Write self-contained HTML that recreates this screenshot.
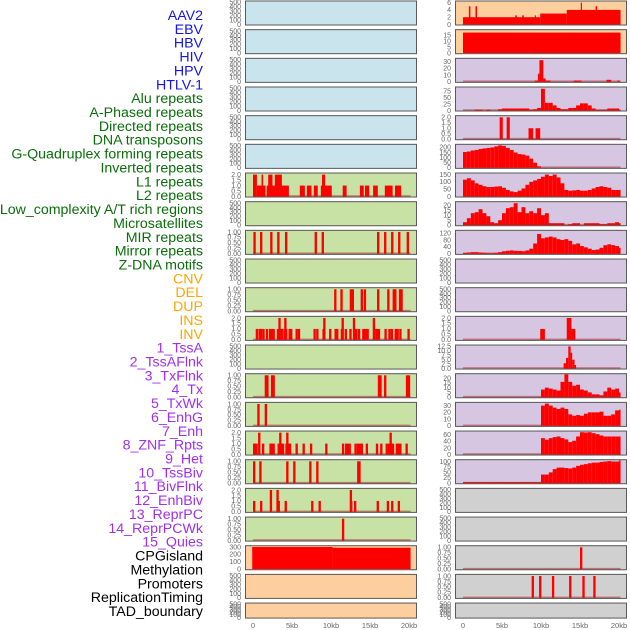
<!DOCTYPE html>
<html><head><meta charset="utf-8"><style>
html,body{margin:0;padding:0;background:#fff;}
svg{display:block;font-family:"Liberation Sans",sans-serif;}
</style></head><body>
<svg id="chart" width="630" height="630" viewBox="0 0 630 630" xmlns="http://www.w3.org/2000/svg"></svg>
<script>
// ---- labels ----
const trackLabels=["AAV2","EBV","HBV","HIV","HPV","HTLV-1","Alu repeats","A-Phased repeats","Directed repeats","DNA transposons","G-Quadruplex forming repeats","Inverted repeats","L1 repeats","L2 repeats","Low_complexity A/T rich regions","Microsatellites","MIR repeats","Mirror repeats","Z-DNA motifs","CNV","DEL","DUP","INS","INV","1_TssA","2_TssAFlnk","3_TxFlnk","4_Tx","5_TxWk","6_EnhG","7_Enh","8_ZNF_Rpts","9_Het","10_TssBiv","11_BivFlnk","12_EnhBiv","13_ReprPC","14_ReprPCWk","15_Quies","CPGisland","Methylation","Promoters","ReplicationTiming","TAD_boundary"];
const labelGroupSizes=[6,13,5,15,5];
const labelGroupColors=["#1515e6","#0a6e0a","#ffa500","#a030f0","#000"];
const xTickValues=[0,5,10,15,20];
const xTickLabels=["0","5kb","10kb","15kb","20kb"];

// ---- left column data (kb positions / values) ----
const l6Start=[0,0.5,1.1,1.75,1.95,2.8,6.0,6.9,7.8,8.7,8.85,11.5,13.7,14.35,15.4,16.9,18.2];
const l6End=[0.5,1.6,1.3,4.6,2.5,3.7,6.65,7.5,8.3,10.1,9.25,12.0,14.2,14.9,16.0,17.9,19.0];
const l6Val=[2,1,2,1,2,2,1,1,1,1,2,1,1,1,1,1,1];
const l8Pos=[0.05,0.9,2.2,3.1,4.1,7.9,8.8,15.9,16.8,17.7,18.6,19.7];
const l10Pos=[10.4,11.2,12.4,12.65,13.8,14.2,15.9,17.2,17.9,18.1,18.7,18.9];
const l11Pos=[0.35,0.7,0.9,1.2,1.65,2.05,2.25,2.5,3.05,3.3,3.55,3.9,4.1,4.55,4.75,5.45,5.75,7.75,8.1,8.9,9.75,10.45,10.65,11.25,11.75,12.35,12.85,13.1,13.45,14.0,14.25,14.55,15.45,15.75,16.0,16.85,17.35,17.65,18.15,18.4,18.75,19.8,3.25,4.0,9.0,11.35,12.8,15.35];
const l11Val=[1,1,1,1,1,1,1,1,1,1,1,1,1,1,1,1,1,1,1,1,1,1,1,1,1,1,1,1,1,1,1,1,1,1,1,1,1,1,1,1,1,1,2,2,2,2,2,2];
const l13Pos=[1.5,1.7,2.3,2.5,16.0,16.2,16.8,19.6,19.85];
const l14Pos=[0.55,1.5];
const l15Pos=[0,0.15,0.3,1.15,2.1,2.25,2.5,3.15,3.45,3.7,4.15,4.4,4.6,5.45,6.35,7.3,9.25,11.4,11.8,12.0,12.25,13.0,13.3,13.55,13.8,14.45,15.75,16.3,17.0,17.3,17.55,17.8,18.3,18.55,18.75,19.55,0.65,3.35,4.25,17.5];
const l15Val=[1,1,1,1,1,1,1,1,1,1,1,1,1,1,1,1,1,1,1,1,1,1,1,1,1,1,1,1,1,1,1,1,1,1,1,1,2,2,2,2];
const l16Pos=[0,0.8,4.25,5.15,7.2,8.1,13.35,13.5];
const l17Pos=[0,0.9,3.15,4.05,7.45,8.4,12.45,12.95,15.85,17.15,17.7,18.55,2.15,3.0,12.4];
const l17Val=[1,1,1,1,1,1,1,1,1,1,1,1,2,2,2];
const l18Pos=[11.4];
const cpgStart=[-0.1,10.2];
const cpgEnd=[10.2,20.2];
const cpgVal=[300,290];

// ---- right column data ----
const aavStart=[0,9.9,13.3,0.75,1.6,6.7,7.6,9.2,15.1,17.0];
const aavEnd=[9.9,13.3,20.2,0.95,1.8,6.9,7.8,9.35,15.25,17.2];
const aavVal=[2,3,4,5,5,2.5,2.5,2.5,6,5];
const ebvStart=[0];const ebvEnd=[20.2];const ebvVal=[17];
const hivStart=[9.2,9.6,9.8,10.3,10.6,14.2,18.4,19.8];
const hivEnd=[9.6,9.8,10.3,10.6,11.2,15.2,19.0,20.1];
const hivVal=[2,12,32,5,2,2,3,2];
const hpvBins=[0,0,0,3,3,0,3,0,0,5,8,8,8,8,8,8,8,3,5,10,85,30,30,20,10,5,5,10,10,20,28,28,20,8,3,3,3,8,8,8,3];
const htlvStart=[4.7,5.6,8.4,9.3];const htlvEnd=[5.1,6.0,9.0,9.9];const htlvVal=[2,2,1,1];
const aluBins=[155,160,170,175,185,190,195,200,210,220,215,195,175,150,135,130,120,90,50,15];
const l1Bins=[115,125,110,90,80,70,65,65,68,70,60,45,35,30,40,55,80,100,110,120,135,150,140,150,130,90,45,40,42,45,40,40,45,55,65,70,65,60,45,45,45];
const l2Bins=[3,7,12,13,16,12,9,3,2,5,12,17,18,22,13,18,12,14,12,17,10,12,2,2,2,2,0,1,2,2,0,2,2,2,2,1,1,2,2,3,2];
const lowcBins=[5,8,10,10,8,6,4,4,6,10,15,18,20,18,17,15,20,30,60,115,90,95,100,95,85,80,85,75,55,60,45,38,30,22,25,35,50,55,50,45,35];
const mirrorStart=[9.9,13.3,13.9];const mirrorEnd=[10.5,13.9,14.4];const mirrorVal=[1,2,1];
const zdnaStart=[12.9,13.2,13.5,13.8,14.0,14.3];const zdnaEnd=[13.2,13.5,13.8,14.0,14.3,14.5];const zdnaVal=[3,6,12.5,9,5,2];
const r13Bins=[8,10,9,8,7,16,24,16,12,13,8,7,5,3,3,2,6,10,8,9,5];
const r14Bins=[30,33,30,27,25,27,25,17,15,16,15,18,20,20,20,21,15,15,17,23,24];
const r15Bins=[50,45,50,53,55,50,46,38,42,55,68,67,68,65,62,58,55,55,55,55,55];
const r16Bins=[5,5,5,5,5,5,5,5,5,5,5,5,5,5,5,5,5,5,5,5,40,40,50,65,72,72,70,68,72,80,85,88,92,95,95,98,100,102,100,100,105];
const r19Pos=[15.0];
const r20Pos=[8.8,9.75,11.4,13.6,15.3,16.7];

const T01=["0.00","0.25","0.50","0.75","1.00"],V01=[0,0.25,0.5,0.75,1];
const T02=["0.0","0.5","1.0","1.5","2.0"],V02=[0,0.5,1,1.5,2];
const VE=[0,100,200,300,400,500];
const BG={blue:"#c9e4ec",green:"#c8e1a5",orange:"#fecf9e",purple:"#d6c6e2",gray:"#d0d0d0"};

function lines(pos,vals){return pos.map((p,i)=>[p,p+0.3,vals?vals[i]:1]);}
function bars(s,e,v){return s.map((a,i)=>[a,e[i],v[i]]);}
function binsToBars(b,start){return b.map((v,i)=>[start+i*0.5,Math.min(start+i*0.5+0.5,20.2),v]);}

const panels=[];
for(let r=0;r<6;r++)panels.push({col:0,row:r,bg:"blue",empty:true});
panels.push({col:0,row:6,bg:"green",ymax:2.1,ticks:V02,tl:T02,d:bars(l6Start,l6End,l6Val)});
panels.push({col:0,row:7,bg:"green",empty:true});
panels.push({col:0,row:8,bg:"green",ymax:1.05,ticks:V01,tl:T01,d:lines(l8Pos)});
panels.push({col:0,row:9,bg:"green",empty:true});
panels.push({col:0,row:10,bg:"green",ymax:1.05,ticks:V01,tl:T01,d:lines(l10Pos)});
panels.push({col:0,row:11,bg:"green",ymax:2.1,ticks:V02,tl:T02,d:lines(l11Pos,l11Val)});
panels.push({col:0,row:12,bg:"green",empty:true});
panels.push({col:0,row:13,bg:"green",ymax:1.05,ticks:V01,tl:T01,d:lines(l13Pos)});
panels.push({col:0,row:14,bg:"green",ymax:1.05,ticks:V01,tl:T01,d:lines(l14Pos)});
panels.push({col:0,row:15,bg:"green",ymax:2.1,ticks:V02,tl:T02,d:lines(l15Pos,l15Val)});
panels.push({col:0,row:16,bg:"green",ymax:1.05,ticks:V01,tl:T01,d:lines(l16Pos)});
panels.push({col:0,row:17,bg:"green",ymax:2.1,ticks:V02,tl:T02,d:lines(l17Pos,l17Val)});
panels.push({col:0,row:18,bg:"green",ymax:1.05,ticks:V01,tl:T01,d:lines(l18Pos)});
panels.push({col:0,row:19,bg:"orange",ymax:310,ticks:[0,100,200,300],tl:["0","100","200","300"],d:bars(cpgStart,cpgEnd,cpgVal),nobase:true});
panels.push({col:0,row:20,bg:"orange",empty:true});
panels.push({col:0,row:21,bg:"orange",empty:true});

panels.push({col:1,row:0,bg:"orange",ymax:6.3,ticks:[0,2,4,6],tl:["0","2","4","6"],d:bars(aavStart,aavEnd,aavVal),nobase:true});
panels.push({col:1,row:1,bg:"orange",ymax:19,ticks:[0,5,10,15],tl:["0","5","10","15"],d:bars(ebvStart,ebvEnd,ebvVal),nobase:true});
panels.push({col:1,row:2,bg:"purple",ymax:34,ticks:[0,10,20,30],tl:["0","10","20","30"],d:bars(hivStart,hivEnd,hivVal)});
panels.push({col:1,row:3,bg:"purple",ymax:90,ticks:[0,25,50,75],tl:["0","25","50","75"],d:binsToBars(hpvBins,0)});
panels.push({col:1,row:4,bg:"purple",ymax:2.1,ticks:V02,tl:T02,d:bars(htlvStart,htlvEnd,htlvVal)});
panels.push({col:1,row:5,bg:"purple",ymax:225,ticks:[0,50,100,150,200],tl:["0","50","100","150","200"],d:binsToBars(aluBins,0)});
panels.push({col:1,row:6,bg:"purple",ymax:157,ticks:[0,50,100,150],tl:["0","50","100","150"],d:binsToBars(l1Bins,0)});
panels.push({col:1,row:7,bg:"purple",ymax:23,ticks:[0,5,10,15,20],tl:["0","5","10","15","20"],d:binsToBars(l2Bins,0)});
panels.push({col:1,row:8,bg:"purple",ymax:133,ticks:[0,40,80,120],tl:["0","40","80","120"],d:binsToBars(lowcBins,0)});
panels.push({col:1,row:9,bg:"purple",empty:true});
panels.push({col:1,row:10,bg:"purple",empty:true});
panels.push({col:1,row:11,bg:"purple",ymax:2.1,ticks:V02,tl:T02,d:bars(mirrorStart,mirrorEnd,mirrorVal)});
panels.push({col:1,row:12,bg:"purple",ymax:13,ticks:[0,2.5,5,7.5,10,12.5],tl:["0.0","2.5","5.0","7.5","10.0","12.5"],d:bars(zdnaStart,zdnaEnd,zdnaVal)});
panels.push({col:1,row:13,bg:"purple",ymax:24,ticks:[0,5,10,15,20],tl:["0","5","10","15","20"],d:binsToBars(r13Bins,10)});
panels.push({col:1,row:14,bg:"purple",ymax:34,ticks:[0,10,20,30],tl:["0","10","20","30"],d:binsToBars(r14Bins,10)});
panels.push({col:1,row:15,bg:"purple",ymax:70,ticks:[0,20,40,60],tl:["0","20","40","60"],d:binsToBars(r15Bins,10)});
panels.push({col:1,row:16,bg:"purple",ymax:106,ticks:[0,25,50,75,100],tl:["0","25","50","75","100"],d:binsToBars(r16Bins,0)});
panels.push({col:1,row:17,bg:"gray",empty:true});
panels.push({col:1,row:18,bg:"gray",empty:true});
panels.push({col:1,row:19,bg:"gray",ymax:1.05,ticks:V01,tl:T01,d:lines(r19Pos)});
panels.push({col:1,row:20,bg:"gray",ymax:1.05,ticks:V01,tl:T01,d:lines(r20Pos)});
panels.push({col:1,row:21,bg:"gray",empty:true});

const NS="http://www.w3.org/2000/svg";
const svg=document.getElementById('chart');
function mk(tag,attrs,parent){const e=document.createElementNS(NS,tag);for(const k in attrs)e.setAttribute(k,attrs[k]);(parent||svg).appendChild(e);return e;}
const PXKB=7.8;
function xScale(col,kb){return (col?463:253)+kb*PXKB;}
function panelTop(row){return 0.5+row*28.67;}
function panelH(row){return row===21?16:25;}

// labels
let li=0;
labelGroupSizes.forEach((n,g)=>{for(let k=0;k<n;k++){const t=mk('text',{x:203,y:20+li*13.86,'text-anchor':'end','font-size':14.2,fill:labelGroupColors[g]});t.textContent=trackLabels[li];


li++;}});

panels.forEach(p=>{
  const g=mk('g',{});
  
  
  const px=p.col?455:245, top=panelTop(p.row), h=panelH(p.row), y0=top+h-1;
  mk('rect',{x:px,y:top,width:172,height:h,fill:BG[p.bg]},g);
  const ymax=p.empty?520:p.ymax, ticks=p.empty?VE:p.ticks, tl=p.empty?VE.map(String):p.tl;
  const ys=v=>y0-v/ymax*(h-2);
  ticks.forEach((v,i)=>{const t=mk('text',{x:px-4,y:ys(v)+2.3,'text-anchor':'end','font-size':7,fill:'#666'},g);t.textContent=tl[i];
    
    });
  if(!p.empty){
    if(!p.nobase)mk('line',{x1:xScale(p.col,0),x2:xScale(p.col,20.2),y1:y0-0.5,y2:y0-0.5,stroke:'rgba(170,40,40,0.55)','stroke-width':1.6},g);
    p.d.forEach(b=>{const x1=xScale(p.col,b[0]),x2=xScale(p.col,b[1]);const r=mk('rect',{x:x1,y:ys(b[2]),width:Math.max(x2-x1,1),height:y0-ys(b[2]),fill:'#ff0000'},g);
      
      });
  }
  mk('rect',{x:px+0.5,y:top+0.5,width:171,height:h-1,fill:'none',stroke:'#5a5a5a','stroke-width':1},g);
});

// x axes
[0,1].forEach(col=>{xTickValues.forEach((v,i)=>{const t=mk('text',{x:xScale(col,v),y:628,'text-anchor':'middle','font-size':7.5,fill:'#666'});t.textContent=xTickLabels[i];
  
  });});
</script>
</body></html>
